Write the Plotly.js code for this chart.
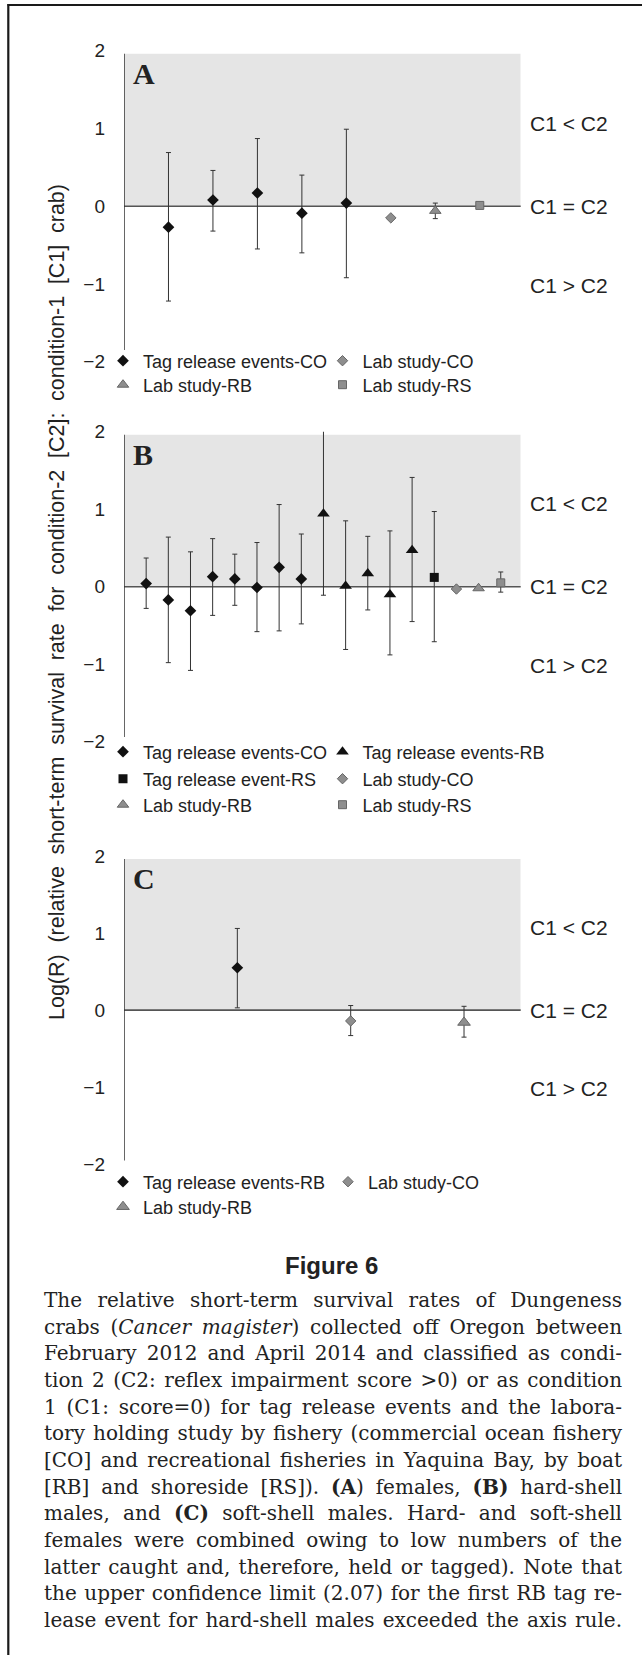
<!DOCTYPE html>
<html><head><meta charset="utf-8">
<script src="https://cdn.plot.ly/plotly-3.0.1.min.js"></script>
<style>html,body{margin:0;padding:0;background:#fff;}#chart{width:642px;height:1655px;}</style>
</head><body><div id="chart"></div>
<script>
// ---------- Panel A (females) ----------
const aTagCO_x = [1, 2, 3, 4, 5];
const aTagCO_y = [-0.27, 0.08, 0.17, -0.09, 0.04];
const aTagCO_hi = [0.69, 0.46, 0.87, 0.40, 0.99];
const aTagCO_lo = [-1.22, -0.32, -0.55, -0.60, -0.92];
const aLabCO_x = [6];
const aLabCO_y = [-0.15];
const aLabRB_x = [7];
const aLabRB_y = [-0.06];
const aLabRB_hi = [0.04];
const aLabRB_lo = [-0.16];
const aLabRS_x = [8];
const aLabRS_y = [0.01];

// ---------- Panel B (hard-shell males) ----------
const bTagCO_x = [1, 2, 3, 4, 5, 6, 7, 8];
const bTagCO_y = [0.04, -0.17, -0.31, 0.13, 0.10, -0.01, 0.25, 0.10];
const bTagCO_hi = [0.37, 0.64, 0.45, 0.62, 0.42, 0.57, 1.06, 0.68];
const bTagCO_lo = [-0.28, -0.98, -1.08, -0.37, -0.24, -0.58, -0.57, -0.48];
const bTagRB_x = [9, 10, 11, 12, 13];
const bTagRB_y = [0.94, 0.01, 0.17, -0.10, 0.47];
const bTagRB_hi = [2.07, 0.85, 0.65, 0.72, 1.41];
const bTagRB_lo = [-0.11, -0.81, -0.30, -0.88, -0.45];
const bTagRS_x = [14];
const bTagRS_y = [0.12];
const bTagRS_hi = [0.97];
const bTagRS_lo = [-0.71];
const bLabCO_x = [15];
const bLabCO_y = [-0.03];
const bLabRB_x = [16];
const bLabRB_y = [-0.02];
const bLabRS_x = [17];
const bLabRS_y = [0.05];
const bLabRS_hi = [0.19];
const bLabRS_lo = [-0.07];

// ---------- Panel C (soft-shell males) ----------
const cTagRB_x = [1];
const cTagRB_y = [0.55];
const cTagRB_hi = [1.06];
const cTagRB_lo = [0.03];
const cLabCO_x = [2];
const cLabCO_y = [-0.14];
const cLabCO_hi = [0.06];
const cLabCO_lo = [-0.33];
const cLabRB_x = [3];
const cLabRB_y = [-0.16];
const cLabRB_hi = [0.05];
const cLabRB_lo = [-0.35];

// ---------- text ----------
const yTicks = [-2, -1, 0, 1, 2];
const panelLetters = ['A', 'B', 'C'];
const regionLabels = ['C1 &lt; C2', 'C1 = C2', 'C1 &gt; C2'];
const regionLabelY = [1.07, 0, -1.02];
const yTitle = 'Log(R) (relative short-term survival rate for condition-2 [C2]: condition-1 [C1] crab)';
const figTitle = 'Figure 6';
const captionLines = [
  'The relative short-term survival rates of Dungeness',
  'crabs (<i>Cancer magister</i>) collected off Oregon between',
  'February 2012 and April 2014 and classified as condi-',
  'tion 2 (C2: reflex impairment score &gt;0) or as condition',
  '1 (C1: score=0) for tag release events and the labora-',
  'tory holding study by fishery (commercial ocean fishery',
  '[CO] and recreational fisheries in Yaquina Bay, by boat',
  '[RB] and shoreside [RS]). <b>(A</b>) females, <b>(B)</b> hard-shell',
  'males, and <b>(C)</b> soft-shell males. Hard- and soft-shell',
  'females were combined owing to low numbers of the',
  'latter caught and, therefore, held or tagged). Note that',
  'the upper confidence limit (2.07) for the first RB tag re-',
  'lease event for hard-shell males exceeded the axis rule.'
];

// ---------- geometry ----------
const W = 642, H = 1655;
const PX = p => p / W;
const PY = p => 1 - p / H;
const SANS_NAME = 'Liberation Sans';
const SANS = 'Liberation Sans, Arial, sans-serif';
const DARK = '#222';
const BLACK = '#111', GREYF = '#8e8e8e', GREYL = '#666';
const xDom = [PX(124), PX(520.7)];
const xMax = [8.92, 17.9, 3.5];
const panelPx = [[50.7, 361.7], [431.7, 741.7], [856, 1164.3]];
const axisBottom = [-1.85, -1.94, -1.95];
const greyTop = 1.96;

const ctx = document.createElement('canvas').getContext('2d');
const decode = s => s.replace(/&gt;/g, '>').replace(/&lt;/g, '<').replace(/&amp;/g, '&');
function measure(markup, size, family) {
  let b = false, it = false, w = 0;
  for (const p of markup.split(/(<\/?[bi]>)/)) {
    if (p === '<b>') b = true; else if (p === '</b>') b = false;
    else if (p === '<i>') it = true; else if (p === '</i>') it = false;
    else if (p) { ctx.font = (it ? 'italic ' : '') + (b ? 'bold ' : '') + size + 'px "' + family + '"'; w += ctx.measureText(decode(p)).width; }
  }
  return w;
}
function spaces(markup) { return (decode(markup.replace(/<\/?[bi]>/g, '')).match(/ /g) || []).length; }

function tr(name, xs, ys, hi, lo, symbol, fill, edge, size, k, legend, secondCol) {
  const t = {
    type: 'scatter', mode: 'markers', name: name, x: xs, y: ys,
    xaxis: k === 0 ? 'x' : 'x' + (k + 1), yaxis: k === 0 ? 'y' : 'y' + (k + 1),
    legend: legend, showlegend: true, cliponaxis: false,
    marker: {symbol: symbol, size: size, color: fill, line: {color: edge, width: fill === BLACK ? 0 : 1}}
  };
  if (secondCol) t.legendwidth = 230;
  if (hi) {
    t.error_y = {type: 'data', symmetric: false,
      array: hi.map((h, i) => h - ys[i]), arrayminus: lo.map((l, i) => ys[i] - l),
      color: '#333', thickness: 1, width: 2.5};
  }
  return t;
}

const data = [
  tr('Tag release events-CO', aTagCO_x, aTagCO_y, aTagCO_hi, aTagCO_lo, 'diamond', BLACK, BLACK, 9, 0, 'legend'),
  tr('Lab study-CO', aLabCO_x, aLabCO_y, null, null, 'diamond', GREYF, GREYL, 8, 0, 'legend', true),
  tr('Lab study-RB', aLabRB_x, aLabRB_y, aLabRB_hi, aLabRB_lo, 'triangle-up', GREYF, GREYL, 10, 0, 'legend2'),
  tr('Lab study-RS', aLabRS_x, aLabRS_y, null, null, 'square', GREYF, GREYL, 8, 0, 'legend2', true),

  tr('Tag release events-CO', bTagCO_x, bTagCO_y, bTagCO_hi, bTagCO_lo, 'diamond', BLACK, BLACK, 9, 1, 'legend3'),
  tr('Tag release events-RB', bTagRB_x, bTagRB_y, bTagRB_hi, bTagRB_lo, 'triangle-up', BLACK, BLACK, 11, 1, 'legend3', true),
  tr('Tag release event-RS', bTagRS_x, bTagRS_y, bTagRS_hi, bTagRS_lo, 'square', BLACK, BLACK, 9, 1, 'legend4'),
  tr('Lab study-CO', bLabCO_x, bLabCO_y, null, null, 'diamond', GREYF, GREYL, 8, 1, 'legend4', true),
  tr('Lab study-RB', bLabRB_x, bLabRB_y, null, null, 'triangle-up', GREYF, GREYL, 10, 1, 'legend5'),
  tr('Lab study-RS', bLabRS_x, bLabRS_y, bLabRS_hi, bLabRS_lo, 'square', GREYF, GREYL, 8, 1, 'legend5', true),

  tr('Tag release events-RB', cTagRB_x, cTagRB_y, cTagRB_hi, cTagRB_lo, 'diamond', BLACK, BLACK, 9, 2, 'legend6'),
  tr('Lab study-CO', cLabCO_x, cLabCO_y, cLabCO_hi, cLabCO_lo, 'diamond', GREYF, GREYL, 8, 2, 'legend6', true),
  tr('Lab study-RB', cLabRB_x, cLabRB_y, cLabRB_hi, cLabRB_lo, 'triangle-up', GREYF, GREYL, 11, 2, 'legend7')
];

const layout = {
  width: W, height: H, margin: {l: 0, r: 0, t: 0, b: 0},
  paper_bgcolor: '#fff', plot_bgcolor: 'rgba(0,0,0,0)',
  showlegend: true, shapes: [], annotations: []
};

for (let k = 0; k < 3; k++) {
  const xs = k === 0 ? '' : String(k + 1);
  const xr = 'x' + xs, yr = 'y' + xs;
  const [pTop, pBot] = panelPx[k];
  layout['xaxis' + xs] = {domain: xDom, range: [0, xMax[k]], visible: false, anchor: yr, fixedrange: true};
  layout['yaxis' + xs] = {domain: [PY(pBot), PY(pTop)], range: [-2, 2], anchor: xr,
    tickvals: yTicks, ticks: '', showgrid: false, zeroline: false, showline: false,
    ticklabelstandoff: 18, tickfont: {family: SANS, size: 19, color: DARK}, fixedrange: true};
  layout.shapes.push(
    {type: 'rect', xref: xr, yref: yr, x0: 0, x1: xMax[k], y0: 0, y1: greyTop,
     fillcolor: '#e5e5e5', line: {width: 0}, layer: 'below'},
    {type: 'line', xref: xr, yref: yr, x0: 0, x1: xMax[k] * 1.006, y0: 0, y1: 0,
     line: {color: '#555', width: 1.6}, layer: 'below'},
    {type: 'line', xref: xr, yref: yr, x0: 0, x1: 0, y0: axisBottom[k], y1: greyTop,
     line: {color: '#333', width: 1.5}, layer: 'below'}
  );
  layout.annotations.push({xref: 'paper', yref: yr, x: PX(131), y: 1.71, xanchor: 'left', yanchor: 'middle',
    text: '<b>' + panelLetters[k] + '</b>', showarrow: false,
    font: {family: 'Liberation Serif, Times New Roman, serif', size: 30, color: DARK}});
  for (let j = 0; j < 3; j++) {
    layout.annotations.push({xref: 'paper', yref: yr, x: PX(528), y: regionLabelY[j],
      xanchor: 'left', yanchor: 'middle', text: regionLabels[j], showarrow: false,
      font: {family: SANS, size: 21, color: DARK}});
  }
}

function leg(xLeft, yPx, ew) {
  return {x: PX(xLeft), xanchor: 'left', y: PY(yPx), yanchor: 'middle', orientation: 'h',
    entrywidth: ew, entrywidthmode: 'pixels', bgcolor: 'rgba(0,0,0,0)', borderwidth: 0,
    font: {family: SANS, size: 18, color: DARK}, itemclick: false, itemdoubleclick: false,
    traceorder: 'normal', tracegroupgap: 0};
}
layout.legend = leg(103, 361, 174.5);
layout.legend2 = leg(103, 385, 174.5);
layout.legend3 = leg(103, 752, 174.5);
layout.legend4 = leg(103, 779, 174.5);
layout.legend5 = leg(103, 805, 174.5);
layout.legend6 = leg(103, 1182, 180);
layout.legend7 = leg(103, 1207, 180);

// frame (top and left edges visible)
layout.shapes.push(
  {type: 'line', xref: 'paper', yref: 'paper', x0: PX(7.5), x1: 1.01, y0: PY(5), y1: PY(5), line: {color: '#1a1a1a', width: 2.2}},
  {type: 'line', xref: 'paper', yref: 'paper', x0: PX(8.3), x1: PX(8.3), y0: PY(4), y1: -0.01, line: {color: '#1a1a1a', width: 2.2}}
);

// y-axis title, stretched with word spacing to the reference length
const yTitleSize = 21.5, yTitleLen = 836;
const yNat = measure(yTitle, yTitleSize, SANS_NAME);
const yWs = Math.max(0, (yTitleLen - yNat) / Math.max(1, spaces(yTitle)));
layout.annotations.push({xref: 'paper', yref: 'paper', x: PX(57), y: PY(602), textangle: -90,
  xanchor: 'center', yanchor: 'middle', showarrow: false,
  text: '<span style="word-spacing:' + yWs.toFixed(2) + 'px">' + yTitle + '</span>',
  font: {family: SANS, size: yTitleSize, color: DARK}});

// figure title
layout.annotations.push({xref: 'paper', yref: 'paper', x: PX(331), y: PY(1265),
  xanchor: 'center', yanchor: 'middle', text: '<b>' + figTitle + '</b>', showarrow: false,
  font: {family: SANS, size: 24, color: DARK}});

// caption, justified through measured word spacing
const CAP_FONT = 'DejaVu Serif';
const capLeft = 42.5, capRight = 620.5, capTarget = capRight - capLeft;
let capSize = 20;
while (capSize > 12 && Math.max(...captionLines.map(l => measure(l, capSize, CAP_FONT))) > capTarget - 8) capSize -= 0.1;
capSize = Math.round(capSize * 10) / 10;
captionLines.forEach((line, i) => {
  const nat = measure(line, capSize, CAP_FONT);
  const ws = Math.max(0, (capTarget - nat) / Math.max(1, spaces(line)));
  layout.annotations.push({xref: 'paper', yref: 'paper', x: PX(capLeft - 1), y: PY(1300 + i * 26.65),
    xanchor: 'left', yanchor: 'middle', align: 'left', showarrow: false,
    text: '<span style="word-spacing:' + ws.toFixed(2) + 'px">' + line + '</span>',
    font: {family: CAP_FONT + ', serif', size: capSize, color: DARK}});
});

Plotly.newPlot('chart', data, layout, {staticPlot: true, displayModeBar: false});
</script>
</body></html>
